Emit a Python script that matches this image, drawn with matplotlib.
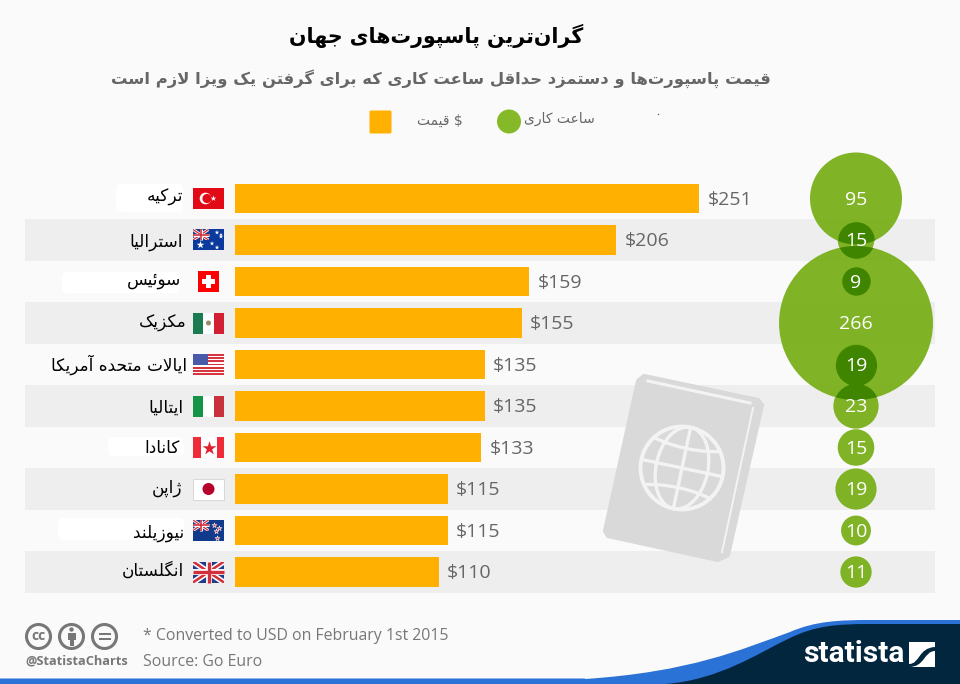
import numpy as np
import matplotlib
matplotlib.use("Agg")
import matplotlib.pyplot as plt
from matplotlib.patches import Circle, Ellipse, FancyBboxPatch, PathPatch, Polygon, Rectangle
from matplotlib.path import Path
from matplotlib.transforms import IdentityTransform

countries = ["ترکیه", "استرالیا", "سوئیس", "مکزیک", "ایالات متحده آمریکا",
             "ایتالیا", "کانادا", "ژاپن", "نیوزیلند", "انگلستان"]
flags = ["tr", "au", "ch", "mx", "us", "it", "ca", "jp", "nz", "gb"]
prices = [251, 206, 159, 155, 135, 135, 133, 115, 115, 110]
hours = [95, 15, 9, 266, 19, 23, 15, 19, 10, 11]

title = "گران\u200cترین پاسپورت\u200cهای جهان"
subtitle = "قیمت پاسپورت\u200cها و دستمزد حداقل ساعت کاری که برای گرفتن یک ویزا لازم است"
legend_price = "قیمت"
legend_hours = "ساعت کاری"

ORANGE = "#ffb000"
GREEN = "#79b01a"
DARK_GREEN = "#3f8500"
BAND = "#eeeeee"
BG = "#fafafa"
GREY = "#666666"
NAVY = "#03263f"
BLUE = "#2b72d6"

# matplotlib does no arabic shaping, so pick the presentation forms by hand
DUAL = {"ب": 0xFE8F, "پ": 0xFB56, "ت": 0xFE95, "ج": 0xFE9D, "چ": 0xFB7A, "ح": 0xFEA1,
        "خ": 0xFEA5, "س": 0xFEB1, "ش": 0xFEB5, "ص": 0xFEB9, "ض": 0xFEBD, "ط": 0xFEC1,
        "ظ": 0xFEC5, "ع": 0xFEC9, "غ": 0xFECD, "ف": 0xFED1, "ق": 0xFED5, "ک": 0xFB8E,
        "گ": 0xFB92, "ل": 0xFEDD, "م": 0xFEE1, "ن": 0xFEE5, "ه": 0xFEE9, "ی": 0xFBFC,
        "ئ": 0xFE89}
RIGHT = {"ا": 0xFE8D, "آ": 0xFE81, "د": 0xFEA9, "ذ": 0xFEAB, "ر": 0xFEAD, "ز": 0xFEAF,
         "ژ": 0xFB8A, "و": 0xFEED}


def shape(text):
    # lam + alef is a ligature
    out = []
    i = 0
    chars = list(text)
    while i < len(chars):
        c = chars[i]
        prev_joins = i > 0 and chars[i - 1] in DUAL
        if c == "ل" and i + 1 < len(chars) and chars[i + 1] == "ا":
            out.append(chr(0xFEFC if prev_joins else 0xFEFB))
            i += 2
            continue
        next_joins = i + 1 < len(chars) and (chars[i + 1] in DUAL or chars[i + 1] in RIGHT)
        if c in DUAL:
            form = (1 if prev_joins else 0) + (2 if next_joins else 0)
            # table order is isolated, final, initial, medial
            out.append(chr(DUAL[c] + form))
        elif c in RIGHT:
            out.append(chr(RIGHT[c] + (1 if prev_joins else 0)))
        elif c != "\u200c":
            out.append(c)
        i += 1
    return "".join(reversed(out))


W, H = 960, 684
fig = plt.figure(figsize=(W / 100, H / 100), dpi=100, facecolor=BG)


def box(left, top, right, bottom):
    return [left / W, 1 - bottom / H, (right - left) / W, (bottom - top) / H]


# data axes: x in dollars, y in rows
px_per_dollar = (699.5 - 235) / 251
ax = fig.add_axes(box(25, 177.75, 935, 592.75))
ax.set_xlim(-(235 - 25) / px_per_dollar, (935 - 235) / px_per_dollar)
ax.set_ylim(len(prices) - 0.5, -0.5)
ax.axis("off")

y = np.arange(len(prices))
for i in y[1::2]:
    ax.axhspan(i - 0.5, i + 0.5, color=BAND, lw=0, zorder=0)

ax.barh(y, prices, height=0.72, color=ORANGE, zorder=2)
for i, p in zip(y, prices):
    ax.annotate(f"${p}", (p, i), xytext=(6, -1), textcoords="offset points", va="center",
                ha="left", fontsize=14, color=GREY, family="Open Sans", zorder=3)

# bubbles, area goes with the hours
circle_x = (856 - 235) / px_per_dollar
sizes = [46.2 * h for h in hours]
ax.scatter([circle_x] * len(hours), y, s=sizes, color=GREEN, alpha=0.95, lw=0, zorder=4, clip_on=False)

radius_px = [np.sqrt(s) / 2 / 0.72 for s in sizes]
centers = ax.transData.transform([(circle_x, i) for i in y])
for a in range(len(hours)):
    for b in range(a + 1, len(hours)):
        dist = abs(centers[a][1] - centers[b][1])
        if dist < radius_px[a] + radius_px[b]:
            small, big = (a, b) if radius_px[a] < radius_px[b] else (b, a)
            dark = ax.scatter([circle_x], [small], s=sizes[small], color=DARK_GREEN, lw=0, zorder=5)
            dark.set_clip_path(Circle(centers[big], radius_px[big], transform=IdentityTransform()))

for i, h in zip(y, hours):
    ax.annotate(str(h), (circle_x, i), xytext=(0, -1), textcoords="offset points", ha="center",
                va="center", color="white", fontsize=14, family="Open Sans", zorder=6)

# everything else sits on a plain pixel layer
deco = fig.add_axes([0, 0, 1, 1], zorder=3)
deco.set_xlim(0, W)
deco.set_ylim(H, 0)
deco.axis("off")
deco.patch.set_alpha(0)

row_y = [deco.transData.inverted().transform(c)[1] for c in centers]

# white smudges behind some of the labels
for left, top, right, bottom in [(116, 184, 183, 212), (62, 272, 180, 293), (108, 437, 184, 456), (58, 518, 184, 540)]:
    deco.add_patch(FancyBboxPatch((left + 5, top + 5), right - left - 10, bottom - top - 10,
                                  boxstyle="round,pad=5", fc="white", ec="none", zorder=1))

label_right = [183, 183, 181, 187, 187, 183, 180, 182, 184, 184]
label_shift = [-1.5, 2, -1.5, 0, 0.5, 2, 0.5, -1, 2.5, -1]
for i, name in enumerate(countries):
    deco.text(label_right[i], row_y[i] + label_shift[i], shape(name), ha="right", va="center",
              fontsize=12.2, color="black", family="DejaVu Sans", zorder=3)


def rect(x, y0, w, h, color, zorder=3):
    r = Rectangle((x, y0), w, h, fc=color, ec="none", zorder=zorder)
    deco.add_patch(r)
    return r


def union_jack(x, y0, w, h):
    clip = rect(x, y0, w, h, "#1f3c88")
    for lw, color in [(3.2, "white"), (1.4, "#d22f3c")]:
        for xs, ys in [((x, x + w), (y0, y0 + h)), ((x, x + w), (y0 + h, y0))]:
            line, = deco.plot(xs, ys, color=color, lw=lw * h / 21 * 1.3, zorder=3, solid_capstyle="butt")
            line.set_clip_path(clip)
    for lw, color in [(4.2, "white"), (2.4, "#d22f3c")]:
        deco.plot((x + w / 2, x + w / 2), (y0, y0 + h), color=color, lw=lw * h / 21, zorder=3, solid_capstyle="butt")
        deco.plot((x, x + w), (y0 + h / 2, y0 + h / 2), color=color, lw=lw * h / 21, zorder=3, solid_capstyle="butt")


def draw_flag(code, cy):
    x, w, h = 193, 31, 21
    y0 = cy - h / 2
    if code == "tr":
        rect(x, y0, w, h, "#e30a17")
        deco.add_patch(Circle((x + 12.5, cy), 5.8, fc="white", ec="none", zorder=3))
        deco.add_patch(Circle((x + 14, cy), 4.6, fc="#e30a17", ec="none", zorder=3))
        deco.scatter([x + 19.5], [cy], marker="*", s=18, color="white", lw=0, zorder=3)
    elif code == "au" or code == "nz":
        rect(x, y0, w, h, "#0b3a9e" if code == "au" else "#123a8c")
        union_jack(x, y0, 15.5, 10.5)
        if code == "au":
            deco.scatter([x + 7.5, x + 19, x + 24, x + 28, x + 24, x + 28],
                         [y0 + 15.5, y0 + 14, y0 + 3, y0 + 7, y0 + 18, y0 + 5],
                         marker="*", s=[34, 12, 12, 12, 12, 6], color="white", lw=0, zorder=4)
        else:
            deco.scatter([x + 21, x + 26, x + 23, x + 24], [y0 + 5, y0 + 8, y0 + 11, y0 + 18],
                         marker="*", s=14, color="#e03c46", edgecolors="white", lw=0.4, zorder=4)
    elif code == "ch":
        rect(198, cy - 10.5, 21, 21, "#ff0000")
        rect(198 + 8, cy - 6.5, 5, 13, "white")
        rect(198 + 4, cy - 2.5, 13, 5, "white")
    elif code == "mx":
        rect(x, y0, w / 3, h, "#1a7a52")
        rect(x + w / 3, y0, w / 3, h, "white")
        rect(x + 2 * w / 3, y0, w / 3, h, "#d21f33")
        deco.add_patch(Circle((x + w / 2, cy), 2.5, fc="#9a8a6a", ec="none", zorder=3))
    elif code == "us":
        for k in range(7):
            rect(x, y0 + k * 2 * h / 13, w, h / 13, "#d8343f")
            if k < 6:
                rect(x, y0 + (k * 2 + 1) * h / 13, w, h / 13, "white")
        rect(x, y0, 15, h * 7 / 13, "#4a5aa8")
    elif code == "it":
        rect(x, y0, w / 3, h, "#159447")
        rect(x + w / 3, y0, w / 3, h, "white")
        rect(x + 2 * w / 3, y0, w / 3, h, "#c8323c")
    elif code == "ca":
        rect(x, y0, w, h, "white")
        rect(x, y0, 7.5, h, "#ef2b3a")
        rect(x + w - 7.5, y0, 7.5, h, "#ef2b3a")
        deco.scatter([x + w / 2], [cy], marker="*", s=110, color="#e2202e", lw=0, zorder=3)
    elif code == "jp":
        rect(x, y0, w, h, "white")
        deco.add_patch(Rectangle((x, y0), w, h, fc="none", ec="#d8d8d8", lw=0.7, zorder=3))
        deco.add_patch(Circle((x + w / 2, cy), 6, fc="#b8002d", ec="none", zorder=3))
    elif code == "gb":
        union_jack(x, y0, w, h)


for code, cy in zip(flags, row_y):
    draw_flag(code, cy)


# passport icon
def rot(points, angle=12, center=(682, 468)):
    a = np.radians(angle)
    pts = np.asarray(points, dtype=float)
    return np.column_stack([center[0] + pts[:, 0] * np.cos(a) - pts[:, 1] * np.sin(a),
                            center[1] + pts[:, 0] * np.sin(a) + pts[:, 1] * np.cos(a)])


PASS = "#d9d9d9"
PASS_LINE = "#f3f3f3"
cover = Polygon([(644, 376), (758, 400), (762, 405), (728, 555), (718, 560), (608, 536), (605, 531), (638, 381)],
                closed=True, fc=PASS, ec=PASS, lw=3, joinstyle="round", zorder=2)
deco.add_patch(cover)
deco.plot([648, 750], [381, 403], color=PASS_LINE, lw=2.2, zorder=2)
deco.plot([753, 722], [408, 552], color=PASS_LINE, lw=1.4, zorder=2)
deco.add_patch(Circle((682, 468), 41.5, fc="none", ec=PASS_LINE, lw=2.8, zorder=3))
deco.add_patch(Ellipse((682, 468), 52, 83, angle=12, fc="none", ec=PASS_LINE, lw=2.4, zorder=3))
for off, bend in [(-24, 4), (0, 0), (24, -4)]:
    half = np.sqrt(41.5 ** 2 - off ** 2)
    t = np.linspace(-half, half, 30)
    deco.plot(*rot(np.column_stack([t, off + bend * (1 - (t / half) ** 2)])).T,
              color=PASS_LINE, lw=2.4, zorder=3)
deco.plot(*rot([(0, -41.5), (0, 41.5)]).T, color=PASS_LINE, lw=2.4, zorder=3)

# titles
deco.text(436.5, 36, shape(title), ha="center", va="center", fontsize=14.8, weight="bold",
          color="black", family="DejaVu Sans")
deco.text(441, 79, shape(subtitle), ha="center", va="center", fontsize=11.8, weight="bold",
          color=GREY, family="DejaVu Sans")

# legend
deco.add_patch(FancyBboxPatch((371, 112), 19, 20, boxstyle="round,pad=1.5", fc=ORANGE, ec="none"))
deco.text(463, 121, shape(legend_price) + " $", ha="right", va="center", fontsize=10, color=GREY,
          family="DejaVu Sans")
deco.add_patch(Ellipse((509, 121.5), 24, 24, fc="#86b928", ec="none"))
deco.text(595, 119, shape(legend_hours), ha="right", va="center", fontsize=10, color=GREY,
          family="DejaVu Sans")
deco.scatter([658], [114], s=1, color="#555555", lw=0)

# footer
blue = Path([(585, 679), (690, 672), (740, 650), (790, 632), (815, 621), (840, 620), (870, 620),
             (960, 620), (960, 684), (0, 684), (0, 678.5), (585, 678.5), (585, 679)],
            [Path.MOVETO] + [Path.CURVE4] * 6 + [Path.LINETO] * 5 + [Path.CLOSEPOLY])
deco.add_patch(PathPatch(blue, fc=BLUE, ec="none", zorder=4))
navy = Path([(665, 684), (720, 680), (760, 652), (790, 638), (815, 626), (835, 624), (870, 624),
             (960, 624), (960, 684), (665, 684)],
            [Path.MOVETO] + [Path.CURVE4] * 6 + [Path.LINETO] * 2 + [Path.CLOSEPOLY])
deco.add_patch(PathPatch(navy, fc=NAVY, ec="none", zorder=5))
deco.text(803, 654, "statista", ha="left", va="center", fontsize=21.5, weight="bold", color="white",
          family="Roboto", zorder=6)
rect(909, 642, 26, 25, "white", zorder=6)
swoosh = Path([(909, 664), (920, 664), (918, 648), (935, 647), (935, 651), (924, 651), (925, 667), (909, 667), (909, 664)],
              [Path.MOVETO] + [Path.CURVE4] * 3 + [Path.LINETO] + [Path.CURVE4] * 3 + [Path.CLOSEPOLY])
deco.add_patch(PathPatch(swoosh, fc=NAVY, ec="none", zorder=7))

ICON = "#777777"
for cx in [38.5, 71.5, 104.5]:
    deco.add_patch(Circle((cx, 636.5), 12, fc="none", ec=ICON, lw=2.2, zorder=3))
deco.text(38.5, 636, "cc", ha="center", va="center", fontsize=10, weight="bold", color=ICON, family="Open Sans")
deco.add_patch(Circle((71.5, 629.5), 2.2, fc=ICON, ec="none"))
rect(67.5, 632.5, 8, 7, ICON)
rect(69.5, 639, 4, 6.5, ICON)
rect(98.5, 632.5, 12, 2.3, ICON)
rect(98.5, 638, 12, 2.3, ICON)
deco.text(25, 661.5, "@StatistaCharts", ha="left", va="center", fontsize=9.2, weight="bold", color=ICON,
          family="Open Sans")
deco.text(143, 636.5, "* Converted to USD on February 1st 2015", ha="left", va="center", fontsize=11.45,
          color=ICON, family="Open Sans")
deco.text(143, 661.5, "Source: Go Euro", ha="left", va="center", fontsize=11.45, color=ICON, family="Open Sans")

fig.savefig("out.png", dpi=100, facecolor=BG)
